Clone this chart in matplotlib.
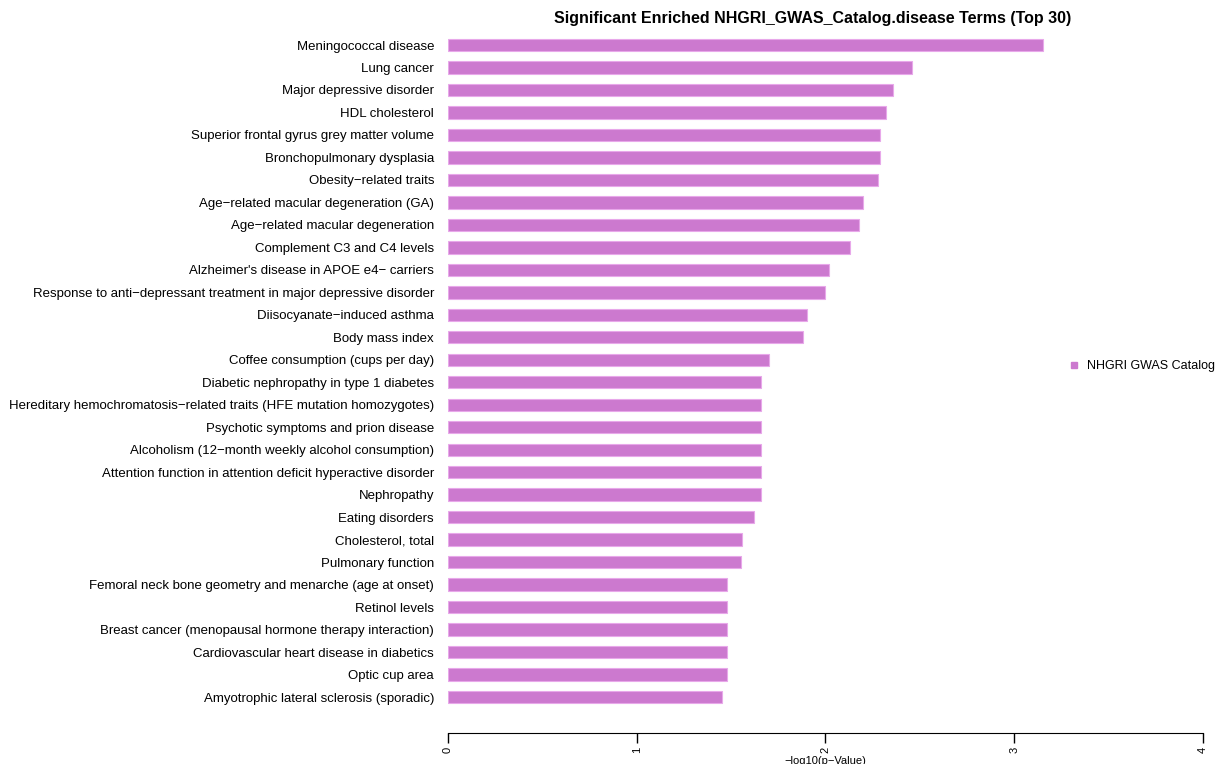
import matplotlib.pyplot as plt
from matplotlib.lines import Line2D

plt.rcParams['font.family'] = ['Liberation Sans', 'DejaVu Sans']

terms = [
    "Meningococcal disease",
    "Lung cancer",
    "Major depressive disorder",
    "HDL cholesterol",
    "Superior frontal gyrus grey matter volume",
    "Bronchopulmonary dysplasia",
    "Obesity\u2212related traits",
    "Age\u2212related macular degeneration (GA)",
    "Age\u2212related macular degeneration",
    "Complement C3 and C4 levels",
    "Alzheimer's disease in APOE e4\u2212 carriers",
    "Response to anti\u2212depressant treatment in major depressive disorder",
    "Diisocyanate\u2212induced asthma",
    "Body mass index",
    "Coffee consumption (cups per day)",
    "Diabetic nephropathy in type 1 diabetes",
    "Hereditary hemochromatosis\u2212related traits (HFE mutation homozygotes)",
    "Psychotic symptoms and prion disease",
    "Alcoholism (12\u2212month weekly alcohol consumption)",
    "Attention function in attention deficit hyperactive disorder",
    "Nephropathy",
    "Eating disorders",
    "Cholesterol, total",
    "Pulmonary function",
    "Femoral neck bone geometry and menarche (age at onset)",
    "Retinol levels",
    "Breast cancer (menopausal hormone therapy interaction)",
    "Cardiovascular heart disease in diabetics",
    "Optic cup area",
    "Amyotrophic lateral sclerosis (sporadic)",
]

neg_log_p = [
    3.15, 2.46, 2.36, 2.32, 2.29, 2.29, 2.28, 2.20, 2.18, 2.13,
    2.02, 2.00, 1.90, 1.88, 1.70, 1.66, 1.66, 1.66, 1.66, 1.66,
    1.66, 1.62, 1.56, 1.55, 1.48, 1.48, 1.48, 1.48, 1.48, 1.45,
]

bar_color = "#CC79CF"
edge_color = "#E8A8EA"

fig = plt.figure(figsize=(12.21, 7.64), dpi=100)
ax = fig.add_axes([0.3669, 0.0406, 0.6183, 0.9202])

ypos = list(range(len(terms)))
ax.barh(ypos, neg_log_p, height=0.55, color=bar_color, edgecolor=edge_color, linewidth=0.8)

ax.set_xlim(0, 4)
ax.set_ylim(30.6, -0.67)
ax.set_yticks(ypos)
ax.set_yticklabels(terms, fontsize=9.5)
ax.tick_params(axis='y', length=0, pad=10)

ax.set_xticks([0, 1, 2, 3, 4])
ax.set_xticklabels(["0", "1", "2", "3", "4"], rotation=90, fontsize=8)
ax.tick_params(axis='x', length=7, width=1, pad=3)
ax.set_xlabel("\u2212log10(p\u2212Value)", fontsize=8, labelpad=2)

for s in ['top', 'right', 'left']:
    ax.spines[s].set_visible(False)
ax.spines['bottom'].set_bounds(0, 4)

fig.text(813 / 1221, 1 - 19 / 764, "Significant Enriched NHGRI_GWAS_Catalog.disease Terms (Top 30)",
         ha='center', va='center', fontsize=11.5, fontweight='bold')

handle = Line2D([], [], marker='s', linestyle='none', color=bar_color, markersize=5)
fig.legend([handle], ["NHGRI GWAS Catalog"], loc='center left',
           bbox_to_anchor=(1056 / 1221, 1 - 366 / 764), frameon=False,
           fontsize=9, handletextpad=0.6, handlelength=1.0)

fig.savefig("out.png", dpi=100)
